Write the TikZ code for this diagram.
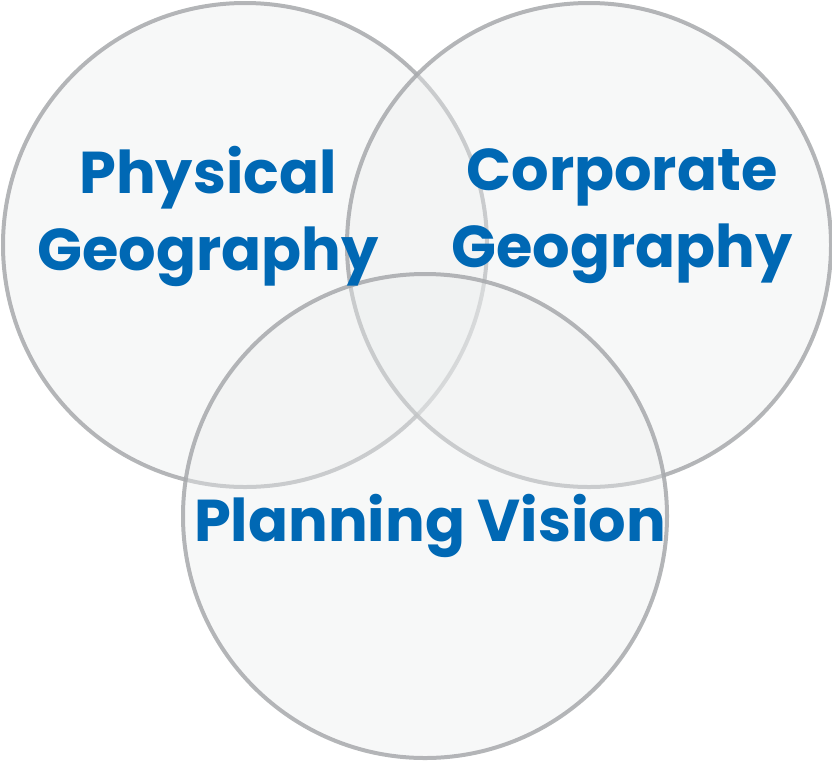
\documentclass[tikz,border=0pt]{standalone}
\usepackage{fontspec}
\newfontfamily\vennfont{Poppins}
\usetikzlibrary{positioning}
\definecolor{ringGray}{HTML}{A7A9AC}
\definecolor{paleFill}{HTML}{ECEEEE}
\definecolor{titleBlue}{HTML}{0068B4}

\begin{document}
\begin{tikzpicture}[
    x=1pt, y=-1pt,
    venn/.style={circle, draw=ringGray, line width=4pt, draw opacity=0.85, fill=paleFill, fill opacity=0.4, minimum size=484pt, inner sep=0pt},
    label/.style={align=center, text=titleBlue, font=\vennfont\bfseries\fontsize{59}{77}\selectfont}
  ]
    \useasboundingbox (0,0) rectangle (832,761);
    % Circles
    \node[venn] (phys) at (245,245) {};
    \node[venn] (corp) at (589,245) {};
    \node[venn] (plan) at (425,516) {};

    % Labels
    \node[label] (physTxt) at (208,216) {Physical\\Geography};
    \node[label] (corpTxt) at (622,216) {Corporate\\Geography};
    \node[label] (planTxt) at (430,526) {Planning Vision};
  \end{tikzpicture}
\end{document}
